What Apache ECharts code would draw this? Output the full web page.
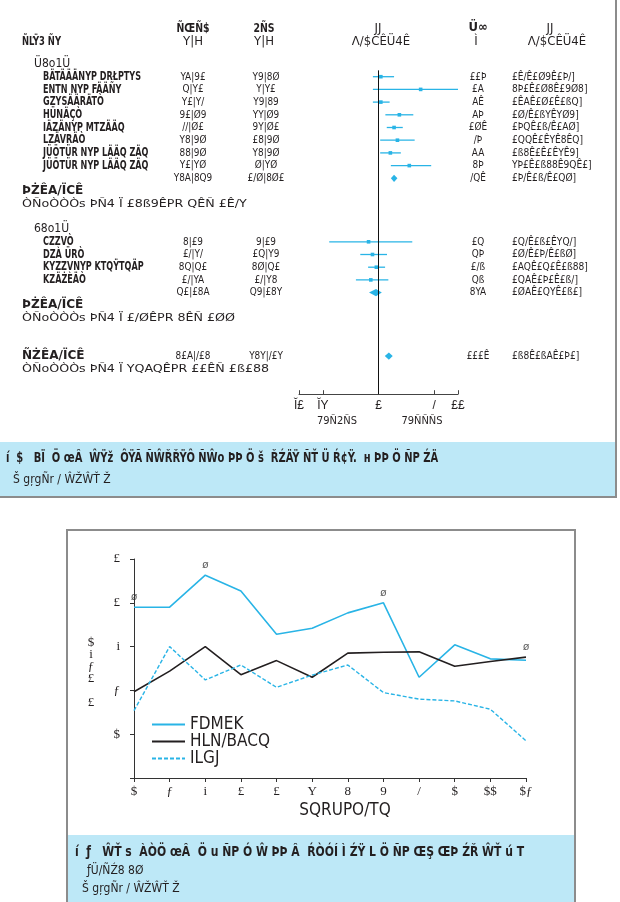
<!DOCTYPE html>
<html><head><meta charset="utf-8">
<script src="https://cdn.jsdelivr.net/npm/echarts@6/dist/echarts.min.js"></script>
<style>html,body{margin:0;padding:0;background:#fff;}#c{width:620px;height:902px;}</style>
</head><body><div id="c"></div><script>
// ================= Forest plot data =================
const group1Label = 'Ü8o1Ü';
const group1Studies = ['BÄTÄÄÄNYP DRŁPTYS','ENTN NYP FÄÄÑY','GZYSÄÄRÄTÒ','HÜNÄÇÒ','IÄZÄNYP MTZÄÄQ','LZÄVRÄÒ','JÜÖTÜR NYP LÄÄQ ZÄQ','JÜÖTÜR NYP LÄÄQ ZÄQ'];
const group1EventsA = ['YA|9£','Q|Y£','Y£|Y/','9£|Ø9','//|Ø£','Y8|9Ø','88|9Ø','Y£|YØ'];
const group1EventsB = ['Y9|8Ø','Y|Y£','Y9|89','YY|Ø9','9Y|Ø£','£8|9Ø','Y8|9Ø','Ø|YØ'];
const group1OR = [1.07, 3.39, 1.07, 1.83, 1.57, 1.73, 1.41, 2.44];
const group1Lo = [0.85, 0.85, 0.85, 1.22, 1.27, 1.05, 1.05, 1.43];
const group1Hi = [1.57, 10.0, 1.38, 2.74, 2.02, 2.85, 1.91, 4.60];
const group1Weight = ['££Þ','£A','AÊ','AÞ','£ØÊ','/Þ','AA','8Þ'];
const group1CI = ['£Ê/Ê£Ø9Ê£Þ/]','8Þ£Ê£Ø8Ê£9Ø8]','£ÊAÊ£Ø£Ê£ßQ]','£Ø/Ê£ßYÊYØ9]','£ÞQÊ£ß/Ê£AØ]','£QQÊ£ÊYÊ8ÊQ]','£ß8Ê£Ê£ÊYÊ9]','YÞ£Ê£ß88Ê9QÊ£]'];
const group1TotalA = 'Y8A|8Q9';
const group1TotalB = '£/Ø|8Ø£';
const group1SubOR = [1.57, 1.43, 1.73];
const group1SubWeight = '/QÊ';
const group1SubCI = '£Þ/Ê£ß/Ê£QØ]';
const group1Het = 'ÒÑoÒÒÒs ÞÑ4 Ï £8ß9ÊPR QÊÑ £Ê/Y';

const group2Label = '68o1Ü';
const group2Studies = ['CZZVÒ','DZÀ ÜRÒ','KYZZVNYP KTQŸTQÄP','KZÄŻÈÄÒ'];
const group2EventsA = ['8|£9','£/|Y/','8Q|Q£','£/|YA'];
const group2EventsB = ['9|£9','£Q|Y9','8Ø|Q£','£/|Y8'];
const group2OR = [0.75, 0.84, 0.94, 0.80];
const group2Lo = [0.24, 0.59, 0.74, 0.52];
const group2Hi = [2.66, 1.28, 1.21, 1.33];
const group2Weight = ['£Q','QÞ','£/ß','Qß'];
const group2CI = ['£Q/Ê£ß£ÊYQ/]','£Ø/Ê£Þ/Ê£ßØ]','£AQÊ£Q£Ê£ß88]','£QAÊ£Þ£Ê£ß/]'];
const group2TotalA = 'Q£|£8A';
const group2TotalB = 'Q9|£8Y';
const group2SubOR = [0.93, 0.76, 1.10];
const group2SubWeight = '8YA';
const group2SubCI = '£ØAÊ£QYÊ£ß£]';
const group2Het = 'ÒÑoÒÒÒs ÞÑ4 Ï £/ØÊPR 8ÊÑ £ØØ';

const subtotalLabel = 'ÞŻÊA/ÏCÊ';
const overallLabel = 'ÑŻÊA/ÏCÊ';
const overallTotalA = '8£A|/£8';
const overallTotalB = 'Y8Y|/£Y';
const overallOR = [1.35, 1.20, 1.51];
const overallWeight = '£££Ê';
const overallCI = '£ß8Ê£ßAÊ£Þ£]';
const overallHet = 'ÒÑoÒÒÒs ÞÑ4 Ï YQAQÊPR ££ÊÑ £ß£88';

const forestTickValues = [0.1, 0.2, 1, 5, 10];
const forestTickLabels = ['Ĭ£','ĬY','£','/','££'];
const favoursLeft = '79Ñ2ÑS';
const favoursRight = '79ÑÑÑS';

// ================= Line chart data =================
const months = ['1','2','3','4','5','6','7','8','9','10','11','12'];
const xTickLabels = ['$','ƒ','i','£','£','Y','8','9','/','$','$$','$ƒ'];
const yTickLabels = ['', '$', 'ƒ', 'i', '£', '£'];
const seriesNames = ['FDMEK','HLN/BACQ','ILGJ'];
const seriesCyan = [3.90, 3.90, 4.63, 4.27, 3.28, 3.42, 3.77, 4.00, 2.30, 3.04, 2.72, 2.69];
const seriesBlack = [1.97, 2.44, 3.00, 2.36, 2.68, 2.30, 2.85, 2.87, 2.88, 2.55, 2.66, 2.76];
const seriesDashed = [1.54, 3.00, 2.24, 2.58, 2.07, 2.35, 2.58, 1.95, 1.80, 1.76, 1.57, 0.85];
const sigMarks = ['ø','','ø','','','','','ø','','','','ø'];

const caption1 = ['í  $   BÏ  Ö œÂ  ŴŸž  ÔŸÃ ÑŴŘŘŸÔ ÑŴo ÞÞ Ö š  ŘŹÄŸ ÑŤ Ü Ŕ¢Ÿ.  н ÞÞ Ö ÑP ŹÄ', 'Š gŗgÑr / ŴŽŴŤ Ž'];
const caption2 = ['í  ƒ   ŴŤ s  ÀÒÖ œÂ  Ö u ÑP Ó Ŵ ÞÞ Â  ŔÒÓÍ Ì ŹŸ L Ö ÑP ŒŞ ŒÞ ŹŘ ŴŤ ú T', 'ƒÜ/ÑŹ8 8Ø', 'Š gŗgÑr / ŴŽŴŤ Ž'];
const xAxisName = 'SQRUPO/TQ';
const yAxisName = '$\ni\nƒ\n£\n\n£';

// ================= Build =================
const CYAN = '#29b4e6', INK = '#231f20';
const NARROW = '"DejaVu Sans Condensed","Liberation Sans Narrow",sans-serif';
const L = Math.log10;

const forestData = [];
group1OR.forEach((v,i)=>forestData.push([i+1, L(v), L(group1Lo[i]), L(group1Hi[i]), 0]));
forestData.push([9, L(group1SubOR[0]), L(group1SubOR[1]), L(group1SubOR[2]), 1]);
group2OR.forEach((v,i)=>forestData.push([i+14, L(v), L(group2Lo[i]), L(group2Hi[i]), 0]));
forestData.push([18, L(group2SubOR[0]), L(group2SubOR[1]), L(group2SubOR[2]), 1]);
forestData.push([23, L(overallOR[0]), L(overallOR[1]), L(overallOR[2]), 1]);

const COL = {grp:34, study:43, lab:22, a:193, b:266, w:478, ci:512};
const F = {name:['bold 12px '+NARROW,0.75], grp:['12px '+NARROW,1], num:['11px '+NARROW,0.9], lab:['bold 12px '+NARROW,1.12], het:['11px '+NARROW,1.28], ci:['11px '+NARROW,0.92]};
const tableRows = [];
function cell(t,x,align,font){return {t,x,align,font};}
tableRows.push({row:0, cells:[cell(group1Label,COL.grp,'left',F.grp)]});
group1Studies.forEach((s,i)=>tableRows.push({row:i+1, cells:[
  cell(s,COL.study,'left',F.name), cell(group1EventsA[i],COL.a,'center',F.num), cell(group1EventsB[i],COL.b,'center',F.num),
  cell(group1Weight[i],COL.w,'center',F.num), cell(group1CI[i],COL.ci,'left',F.ci)]}));
tableRows.push({row:9, cells:[cell(group1TotalA,COL.a,'center',F.num), cell(group1TotalB,COL.b,'center',F.num), cell(group1SubWeight,COL.w,'center',F.num), cell(group1SubCI,COL.ci,'left',F.ci)]});
tableRows.push({row:10, cells:[cell(subtotalLabel,COL.lab,'left',F.lab)]});
tableRows.push({row:11, cells:[cell(group1Het,COL.lab,'left',F.het)]});
tableRows.push({row:13, cells:[cell(group2Label,COL.grp,'left',F.grp)]});
group2Studies.forEach((s,i)=>tableRows.push({row:i+14, cells:[
  cell(s,COL.study,'left',F.name), cell(group2EventsA[i],COL.a,'center',F.num), cell(group2EventsB[i],COL.b,'center',F.num),
  cell(group2Weight[i],COL.w,'center',F.num), cell(group2CI[i],COL.ci,'left',F.ci)]}));
tableRows.push({row:18, cells:[cell(group2TotalA,COL.a,'center',F.num), cell(group2TotalB,COL.b,'center',F.num), cell(group2SubWeight,COL.w,'center',F.num), cell(group2SubCI,COL.ci,'left',F.ci)]});
tableRows.push({row:19, cells:[cell(subtotalLabel,COL.lab,'left',F.lab)]});
tableRows.push({row:20, cells:[cell(group2Het,COL.lab,'left',F.het)]});
tableRows.push({row:23, cells:[cell(overallLabel,COL.lab,'left',F.lab), cell(overallTotalA,COL.a,'center',F.num), cell(overallTotalB,COL.b,'center',F.num), cell(overallWeight,COL.w,'center',F.num), cell(overallCI,COL.ci,'left',F.ci)]});
tableRows.push({row:24, cells:[cell(overallHet,COL.lab,'left',F.het)]});

function txt(text,x,y,font,align,sx){return {type:'text', x, y, scaleX:sx||1, style:{text, x:0, y:0, font, fill:INK, align:align||'left', verticalAlign:'middle'}};}

const graphic = [
  {type:'rect', shape:{x:0,y:442,width:616,height:55}, style:{fill:'#bde8f7'}, z:-10},
  {type:'rect', shape:{x:-2,y:-2,width:618,height:499}, style:{fill:null, stroke:'#8c8c8c', lineWidth:2}, z:-5},
  {type:'rect', shape:{x:67,y:835,width:508,height:70}, style:{fill:'#bde8f7'}, z:-10},
  {type:'rect', shape:{x:67,y:530,width:508,height:380}, style:{fill:null, stroke:'#8c8c8c', lineWidth:2}, z:-5},
  // forest headers
  txt('ÑĽŸ3 ÑY',22,42,'bold 13px '+NARROW,'left',0.72),
  txt('ÑŒÑ$',193,29,'bold 13px '+NARROW,'center',0.8), txt('Y|H',193,42,'13px '+NARROW,'center'),
  txt('2ÑS',264,29,'bold 13px '+NARROW,'center',0.8), txt('Y|H',264,42,'13px '+NARROW,'center'),
  txt('JJ',378,29,'13px '+NARROW,'center'), txt('Ʌ/$CÊÜ4Ê',381,42,'13px '+NARROW,'center'),
  txt('Ü∞',478,28,'bold 13px '+NARROW,'center'), txt('Ì',476,42,'13px '+NARROW,'center'),
  txt('JJ',550,29,'13px '+NARROW,'center'), txt('Ʌ/$CÊÜ4Ê',557,42,'13px '+NARROW,'center'),
  txt(favoursLeft,337,421,'11px '+NARROW,'center'), txt(favoursRight,422,421,'11px '+NARROW,'center'),
  // captions
  txt(caption1[0],6,458,'bold 14px '+NARROW,'left',0.79), txt(caption1[1],13,480,'12px '+NARROW),
  txt(caption2[0],75,852,'bold 14px '+NARROW,'left',0.86), txt(caption2[1],87,871,'12px '+NARROW), txt(caption2[2],82,889,'12px '+NARROW),
  // line chart axis names
  txt(xAxisName,345,811,'17px '+NARROW,'center'),
  {type:'text', style:{text:yAxisName, x:91, y:673, font:'13px "Liberation Serif",serif', lineHeight:12, fill:INK, align:'center', verticalAlign:'middle'}}
];

const chart = echarts.init(document.getElementById('c'), null, {renderer:'canvas'});
chart.setOption({
  animation:false,
  backgroundColor:'#fff',
  grid:[
    {left:299, top:57.65, width:159, height:336.55},
    {left:134, top:559, width:392, height:219}
  ],
  xAxis:[
    {gridIndex:0, type:'value', min:-1, max:1, position:'bottom',
     axisLine:{onZero:false, lineStyle:{color:'#444', width:1}},
     axisTick:{inside:true, length:4, customValues:forestTickValues.map(L), lineStyle:{color:'#444'}},
     axisLabel:{customValues:forestTickValues.map(L), margin:5, font:'11px '+NARROW, color:INK,
       formatter:(v)=>{let k=0,b=1e9; forestTickValues.forEach((t,i)=>{const d=Math.abs(L(t)-v); if(d<b){b=d;k=i;}}); return forestTickLabels[k];}},
     splitLine:{show:false}},
    {gridIndex:1, type:'category', data:months, boundaryGap:false,
     axisLine:{lineStyle:{color:'#333'}}, axisTick:{length:4, alignWithLabel:true, lineStyle:{color:'#333'}},
     axisLabel:{margin:7, fontFamily:'"Liberation Serif",serif', fontSize:13, color:INK, formatter:(v,i)=>xTickLabels[i]}}
  ],
  yAxis:[
    {gridIndex:0, type:'value', inverse:true, min:-0.5, max:26, show:false},
    {gridIndex:1, type:'value', min:0, max:5, interval:1,
     axisLine:{show:true, lineStyle:{color:'#333'}}, axisTick:{show:true, length:4, lineStyle:{color:'#333'}},
     splitLine:{show:false},
     axisLabel:{margin:14, fontFamily:'"Liberation Serif",serif', fontSize:13, color:INK, formatter:(v)=>yTickLabels[Math.round(v)]}}
  ],
  legend:{orient:'vertical', left:146, top:711, itemWidth:33, itemHeight:14, itemGap:0,
    itemStyle:{color:'rgba(0,0,0,0)', borderColor:'rgba(0,0,0,0)', borderWidth:0, opacity:0},
    data:seriesNames, textStyle:{fontFamily:NARROW, fontSize:17, lineHeight:16, color:INK}},
  graphic,
  series:[
    {type:'custom', name:'forest', xAxisIndex:0, yAxisIndex:0, data:forestData, encode:{x:1, y:0}, clip:false, silent:true,
     renderItem:(params, api)=>{
       const row=api.value(0), est=api.value(1), lo=api.value(2), hi=api.value(3), kind=api.value(4);
       const pE=api.coord([est,row]), pL=api.coord([lo,row]), pH=api.coord([hi,row]);
       if(kind===0) return {type:'group', children:[
         {type:'line', shape:{x1:pL[0],y1:pE[1],x2:pH[0],y2:pE[1]}, style:{stroke:CYAN, lineWidth:1.3}},
         {type:'rect', shape:{x:pE[0]-1.8,y:pE[1]-1.8,width:3.6,height:3.6}, style:{fill:CYAN}}]};
       return {type:'polygon', shape:{points:[[pL[0],pE[1]],[pE[0],pE[1]-3.6],[pH[0],pE[1]],[pE[0],pE[1]+3.6]]}, style:{fill:CYAN}};
     },
     markLine:{silent:true, symbol:'none', label:{show:false}, lineStyle:{color:'#111', width:1, type:'solid'},
       data:[[{coord:[L(1),0.5]},{coord:[L(1),26]}]]}
    },
    {type:'custom', name:'table', xAxisIndex:0, yAxisIndex:0, data:tableRows.map(r=>[0,r.row]), encode:{x:0,y:1}, clip:false, silent:true,
     renderItem:(params, api)=>{
       const y=api.coord([0,api.value(1)])[1];
       const r=tableRows[params.dataIndex];
       return {type:'group', children:r.cells.map(c=>({type:'text', x:c.x, y, scaleX:c.font[1], style:{text:c.t, x:0, y:0, font:c.font[0], fill:INK, align:c.align, verticalAlign:'middle'}}))};
     }},
    {type:'line', name:seriesNames[0], xAxisIndex:1, yAxisIndex:1, data:seriesCyan, symbol:'none', lineStyle:{color:CYAN, width:1.6}, itemStyle:{color:CYAN}},
    {type:'line', name:seriesNames[1], xAxisIndex:1, yAxisIndex:1, data:seriesBlack, symbol:'none', lineStyle:{color:INK, width:1.6}, itemStyle:{color:INK}},
    {type:'line', name:seriesNames[2], xAxisIndex:1, yAxisIndex:1, data:seriesDashed, symbol:'none', lineStyle:{color:CYAN, width:1.4, type:[4,2]}, itemStyle:{color:CYAN}},
    {type:'scatter', name:'sig', xAxisIndex:1, yAxisIndex:1, silent:true, symbolSize:1, itemStyle:{color:'rgba(0,0,0,0)'},
     data:seriesCyan.map((v,i)=>sigMarks[i]?[i,Math.max(v,seriesBlack[i])]:null).filter(Boolean),
     label:{show:true, position:'top', distance:4, formatter:(p)=>sigMarks[p.data[0]], fontSize:11, color:'#333'}}
  ]
});
</script></body></html>
